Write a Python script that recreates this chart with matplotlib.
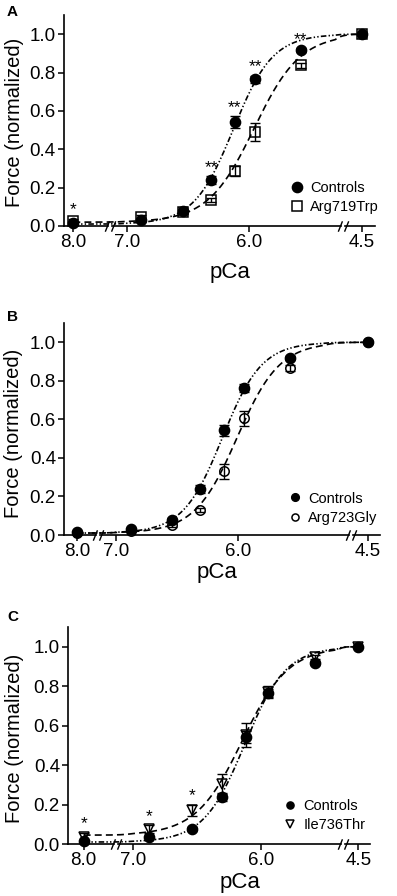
import numpy as np
import matplotlib
matplotlib.use("Agg")
import matplotlib.pyplot as plt
from matplotlib.path import Path

plt.rcParams["font.family"] = ["Liberation Sans", "DejaVu Sans"]
plt.rcParams["lines.scale_dashes"] = False

# pCa steps used in every panel
pca = [8.0, 6.88, 6.54, 6.31, 6.12, 5.95, 5.58, 4.5]
xtick_vals = [8.0, 7.0, 6.0, 4.5]
xtick_labels = ["8.0", "7.0", "6.0", "4.5"]
ytick_vals = [0.0, 0.2, 0.4, 0.6, 0.8, 1.0]

# controls (same in all three panels)
ctrl_force = [0.015, 0.033, 0.077, 0.24, 0.543, 0.764, 0.918, 1.0]
ctrl_err = [0.0, 0.0, 0.01, 0.02, 0.03, 0.02, 0.01, 0.0]

# panel A
arg719_force = [0.028, 0.045, 0.075, 0.135, 0.286, 0.49, 0.837, 1.0]
arg719_err = [0.01, 0.01, 0.01, 0.01, 0.025, 0.045, 0.015, 0.0]
arg719_stars = ["*", "", "", "**", "**", "**", "**", ""]

# panel B
arg723_force = [0.01, 0.02, 0.05, 0.13, 0.33, 0.605, 0.865, 1.0]
arg723_err = [0.0, 0.0, 0.01, 0.01, 0.04, 0.04, 0.015, 0.0]
arg723_stars = ["", "", "", "", "", "", "", ""]

# panel C
ile736_force = [0.037, 0.075, 0.17, 0.305, 0.552, 0.77, 0.95, 1.0]
ile736_err = [0.02, 0.02, 0.03, 0.05, 0.06, 0.03, 0.01, 0.0]
ile736_stars = ["*", "*", "*", "", "", "", "", ""]

# Hill fits: (baseline, pCa50, nH)
ctrl_fit = (0.01, 6.13, 2.7)
arg719_fit = (0.02, 5.96, 2.3)
arg723_fit = (0.01, 6.01, 2.5)
ile736_fit = (0.045, 6.15, 2.4)


def hill(p, fit):
    base, p50, nh = fit
    return base + (1.0 - base) / (1.0 + 10 ** (nh * (p - p50)))


def broken_scale(L, pb, R):
    # piecewise linear, increasing in pCa, compressed at both ends.
    # u = position measured from pCa 7.0 towards pCa 4.5 (in pCa units)
    right_ext = R + (R - (7 - pb)) / (pb - 4.5)
    p = np.array([3.5, 4.5, pb, 7.0, 8.0, 9.0])
    w = -np.array([right_ext, R, 7 - pb, 0.0, L, 2 * L])

    def fwd(x):
        return np.interp(np.asarray(x, float), p, w)

    def inv(v):
        return np.interp(np.asarray(v, float), w, p)

    def to_pca(u):
        return inv(-np.asarray(u, float))

    return fwd, inv, to_pca


slashes = Path([(-5, -5), (-1, 5), (1, -5), (5, 5)],
               [Path.MOVETO, Path.LINETO, Path.MOVETO, Path.LINETO])

ctrl_dash = (4.0, 1.6, 1.0, 1.6, 1.0, 1.6)
mut_dash = (5.0, 3.0)

panels = [
    dict(letter="A", name="Arg719Trp", force=arg719_force, err=arg719_err,
         stars=arg719_stars, fit=arg719_fit, marker="s", ms=6.5,
         rect=[64 / 397, 1 - 226 / 896, 311 / 397, 211 / 896],
         scale=(-0.435, 5.3, 1.92), ulim=(-0.511, 2.025), breaks=(-0.136, 1.766),
         letter_xy=(12, 12), xlab=(0.534, -0.246), ylab=(-0.129, 0.493),
         leg=(0.725, 0.133), mscale=1.0),
    dict(letter="B", name="Arg723Gly", force=arg723_force, err=arg723_err,
         stars=arg723_stars, fit=arg723_fit, marker="o", ms=6.8,
         rect=[64.3 / 397, 1 - 535 / 896, 315.7 / 397, 212 / 896],
         scale=(-0.32, 5.3, 2.06), ulim=(-0.423, 2.159), breaks=(-0.145, 1.92),
         letter_xy=(13, 317), xlab=(0.483, -0.203), ylab=(-0.131, 0.479),
         leg=(0.708, 0.127), mscale=0.75),
    dict(letter="C", name="Ile736Thr", force=ile736_force, err=ile736_err,
         stars=ile736_stars, fit=ile736_fit, marker="v", ms=7.5,
         rect=[68.3 / 397, 1 - 844 / 896, 301.7 / 397, 217 / 896],
         scale=(-0.39, 5.4, 1.76), ulim=(-0.51, 1.85), breaks=(-0.136, 1.64),
         letter_xy=(13, 617), xlab=(0.569, -0.201), ylab=(-0.147, 0.486),
         leg=(0.711, 0.130), mscale=0.7),
]

fig = plt.figure(figsize=(3.97, 8.96), dpi=100)

for pnl in panels:
    ax = fig.add_axes(pnl["rect"])
    fwd, inv, to_pca = broken_scale(*pnl["scale"])
    ax.set_xscale("function", functions=(fwd, inv))
    ax.set_ylim(0, 1.1)

    curve_x = inv(np.linspace(fwd(8.0), fwd(4.5), 400))
    ax.plot(curve_x, hill(curve_x, pnl["fit"]), color="black", lw=1.2,
            dashes=mut_dash)
    ax.plot(curve_x, hill(curve_x, ctrl_fit), color="black", lw=1.2,
            dashes=ctrl_dash)

    ax.errorbar(pca, pnl["force"], yerr=pnl["err"], fmt="none", ecolor="black",
                elinewidth=1, capsize=3.6, capthick=1, clip_on=False)
    ax.errorbar(pca, ctrl_force, yerr=ctrl_err, fmt="none", ecolor="black",
                elinewidth=1, capsize=3.6, capthick=1, clip_on=False)
    mut, = ax.plot(pca, pnl["force"], ls="none", marker=pnl["marker"],
                   ms=pnl["ms"], mfc="none", mec="black", mew=1.1,
                   clip_on=False, zorder=4, label=pnl["name"])
    ctl, = ax.plot(pca, ctrl_force, ls="none", marker="o", ms=7.4,
                   mfc="black", mec="black", clip_on=False, zorder=5,
                   label="Controls")

    for x, s, f1, e1, f2, e2 in zip(pca, pnl["stars"], pnl["force"], pnl["err"],
                                    ctrl_force, ctrl_err):
        if s:
            top = max(f1 + e1, f2 + e2)
            ax.text(x, top + 0.045, s, ha="center", va="center", fontsize=12.5)

    # axes styling
    for side in ("top", "right", "bottom"):
        ax.spines[side].set_visible(False)
    ax.spines["left"].set_linewidth(1.2)
    ax.set_xticks(xtick_vals)
    ax.set_xticklabels(xtick_labels)
    ax.xaxis.set_minor_locator(matplotlib.ticker.NullLocator())
    ax.set_yticks(ytick_vals)
    ax.set_yticklabels([f"{v:.1f}" for v in ytick_vals])
    ax.tick_params(axis="both", direction="out", length=4, width=1.1,
                   labelsize=13.5, pad=2)

    # broken x axis line
    u0, u1 = pnl["ulim"]
    b1, b2 = pnl["breaks"]
    g = 0.018
    for a, b in ((u0, b1 - g), (b1 + g, b2 - g), (b2 + g, u1)):
        ax.plot(to_pca([a, b]), [0, 0], color="black", lw=1.2, clip_on=False,
                zorder=3)
    ax.plot(to_pca([b1, b2]), [0, 0], ls="none", marker=slashes, ms=7.5,
            mec="black", mew=1.0, mfc="none", clip_on=False, zorder=3)

    ax.set_xlim(float(to_pca(u0)), float(to_pca(u1)))

    ax.set_xlabel("pCa", fontsize=16, va="baseline")
    ax.xaxis.set_label_coords(*pnl["xlab"])
    ax.set_ylabel("Force (normalized)", fontsize=14.5)
    ax.yaxis.set_label_coords(*pnl["ylab"])

    ax.legend(handles=[ctl, mut], loc="center left", bbox_to_anchor=pnl["leg"],
              frameon=False, fontsize=10.5, handlelength=1.0, handletextpad=0.4,
              labelspacing=0.35, borderpad=0, borderaxespad=0,
              markerscale=pnl["mscale"])

    lx, ly = pnl["letter_xy"]
    fig.text(lx / 397, 1 - ly / 896, pnl["letter"], fontsize=11,
             fontweight="bold", ha="center", va="center")

fig.savefig("out.png", dpi=100)
